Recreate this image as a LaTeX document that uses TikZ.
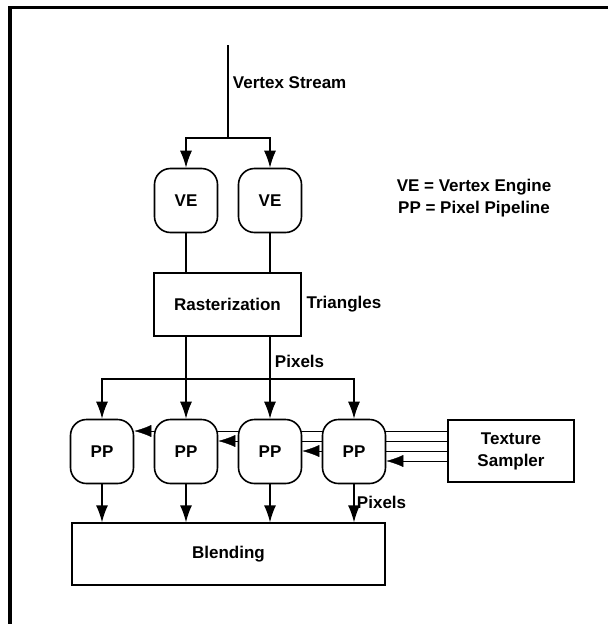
\documentclass[tikz,border=0pt]{standalone}
\usepackage{fontspec}
\setmainfont{Liberation Sans}
\usetikzlibrary{positioning, arrows.meta, calc, backgrounds}
\tikzset{>={Latex[length=17pt,width=12pt]}}
\tikzset{
    unit/.style = {rectangle, rounded corners=16pt, draw, line width=1.6pt, fill=white,
                        minimum width=63pt, minimum height=64pt, align=center},
    block/.style = {rectangle, draw, line width=1.3pt, fill=white, align=center}
}

\begin{document}
\begin{tikzpicture}[x=1pt, y=-1pt, line width=1.3pt, font=\bfseries\fontsize{17}{22}\selectfont]
		\useasboundingbox (0,0) rectangle (608,624);
		\draw [line width=3.5pt] (10,624) -- (10,7.5) -- (608,7.5);
		\coordinate (src) at (228,45);
		\coordinate (split) at (228,138);
		\coordinate (bus) at (228,379);
		\node (ve1) [unit] at (186,200.5) {VE};
		\node (ve2) [unit] at (270,200.5) {VE};
		\node (key) [align=center] at (474,198) {VE = Vertex Engine\\PP = Pixel Pipeline};
		\node (rast) [block, minimum width=147pt, minimum height=63pt] at (227.5,304.5) {Rasterization};
		\node (tri) [right=1pt of rast] {Triangles};
		\node (pp1) [unit] at (102,451.5) {PP};
		\node (pp2) [unit] at (186,451.5) {PP};
		\node (pp3) [unit] at (270,451.5) {PP};
		\node (pp4) [unit] at (354,451.5) {PP};
		\node (tex) [block, minimum width=126pt, minimum height=62pt] at (511,451) {Texture\\Sampler};
		\node (blend) [block, minimum width=313pt, minimum height=62pt] at (228.5,554) {Blending};
		\draw (src) -- node[pos=0.41, right=1pt] {Vertex Stream} (split);
		\draw [->] (split) -| (ve1);
		\draw [->] (split) -| (ve2);
		\draw (ve1) -- (ve1 |- rast.north);
		\draw (ve2) -- (ve2 |- rast.north);
		\draw [->] (rast.south -| pp2) -- (pp2);
		\draw [->] (rast.south -| pp3) -- node[pos=0.3, right=1pt] {Pixels} (pp3);
		\draw [<->] (pp1) |- (bus) -| (pp4);
		\begin{scope}[on background layer]
			\foreach \i/\dy in {1/-20,2/-10,3/0,4/10} {
				\coordinate (t\i) at ($(tex.west)+(0,\dy)$);
				\draw [->] (t\i) -- (t\i -| pp\i.east);
			}
		\end{scope}
		\foreach \i in {1,2,3} \draw [->] (pp\i) -- (pp\i |- blend.north);
		\draw [->] (pp4) -- node[pos=0.47, right=-1pt] {Pixels} (pp4 |- blend.north);
	\end{tikzpicture}
\end{document}
